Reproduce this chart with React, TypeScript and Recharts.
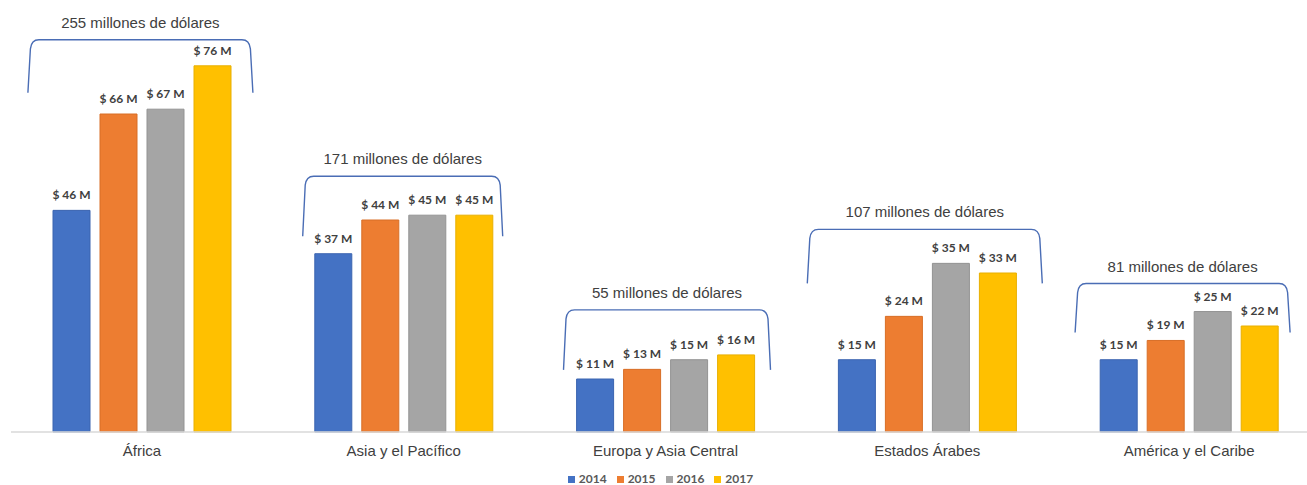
import React from 'react';
import { ComposedChart, Bar, Line, XAxis, YAxis, Legend, LabelList } from 'recharts';

const categories = ['África', 'Asia y el Pacífico', 'Europa y Asia Central', 'Estados Árabes', 'América y el Caribe'];
const years = ['2014', '2015', '2016', '2017'];
const v2014 = [46, 37, 11, 15, 15];
const v2015 = [66, 44, 13, 24, 19];
const v2016 = [67, 45, 15, 35, 25];
const v2017 = [76, 45, 16, 33, 22];

const seriesValues = [v2014, v2015, v2016, v2017];
const colors = ['#4472C4', '#ED7D31', '#A5A5A5', '#FFC000'];
const strokes = ['#3B64B0', '#D86E26', '#939393', '#E8AF00'];

// bracket geometry in pixels: [left offset, right offset, gap above tallest bar, depth]
const bracketLayout = [
  [-114, 111, 26, 53],
  [-101, 99, 39, 60],
  [-102, 105, 45, 60],
  [-120, 115, 34, 54],
  [-114, 101, 28, 49],
];

const data = categories.map((name, i) => {
  const row: any = { name };
  years.forEach((y, j) => {
    row['y' + y] = seriesValues[j][i];
  });
  row.total = seriesValues.reduce((s, arr) => s + arr[i], 0);
  row.peak = Math.max(...seriesValues.map((arr) => arr[i]));
  return row;
});

const BracketDot = (props: any) => {
  const { cx, cy, index, payload } = props;
  if (cx == null || cy == null) return null;
  const [lo, ro, gap, depth] = bracketLayout[index];
  const L = cx + lo;
  const R = cx + ro;
  const T = cy - gap;
  const B = T + depth;
  const d = `M ${L} ${B} L ${L + 2.5} ${T + 9} Q ${L + 3.5} ${T} ${L + 11} ${T} L ${R - 11} ${T} Q ${R - 3.5} ${T} ${R - 2.5} ${T + 9} L ${R} ${B}`;
  return (
    <g key={'br' + index}>
      <path d={d} fill="none" stroke="#4A6DB5" strokeWidth={1.4} />
      <text
        x={(L + R) / 2}
        y={T - 12}
        textAnchor="middle"
        fontSize={15}
        fontFamily="'Liberation Sans', Arial, sans-serif"
        fill="#404040"
      >
        {`${payload.total} millones de dólares`}
      </text>
    </g>
  );
};

const ValueLabel = (props: any) => {
  const { x, y, width, value } = props;
  if (x == null || y == null) return null;
  return (
    <text
      x={Number(x) + Number(width) / 2}
      y={Number(y) - 11}
      textAnchor="middle"
      fontSize={12}
      fontFamily="Lato, sans-serif"
      fontWeight="bold"
      fill="#404040"
    >
      {`$ ${value} M`}
    </text>
  );
};

export default function App() {
  return (
    <div style={{ position: 'absolute', left: 0, top: 0, width: 1307, height: 485, overflow: 'hidden', background: '#fff' }}>
      <ComposedChart
        width={1320}
        height={485}
        data={data}
        margin={{ top: 8, right: 0, bottom: 11, left: 11 }}
        barCategoryGap={42}
        barGap={10}
      >
        <XAxis
          dataKey="name"
          axisLine={{ stroke: '#D9D9D9', strokeWidth: 1.5 }}
          tickLine={false}
          tickMargin={7}
          height={30}
          interval={0}
          tick={{ fontSize: 15, fill: '#404040', fontFamily: "'Liberation Sans', Arial, sans-serif" }}
        />
        <YAxis hide domain={[0, 88]} />
        <Legend
          verticalAlign="bottom"
          iconType="square"
          iconSize={7}
          wrapperStyle={{ top: 473, lineHeight: '12px', fontSize: 12, fontFamily: 'Lato, sans-serif', fontWeight: 'bold' }}
          formatter={(value: any) => <span style={{ color: '#595959' }}>{value}</span>}
        />
        {years.map((y, j) => (
          <Bar
            key={y}
            dataKey={'y' + y}
            name={y}
            fill={colors[j]}
            stroke={strokes[j]}
            strokeWidth={1}
            barSize={37}
            isAnimationActive={false}
          >
            <LabelList dataKey={'y' + y} content={ValueLabel} />
          </Bar>
        ))}
        <Line
          dataKey="peak"
          stroke="none"
          legendType="none"
          dot={BracketDot}
          activeDot={false}
          isAnimationActive={false}
        />
      </ComposedChart>
    </div>
  );
}
